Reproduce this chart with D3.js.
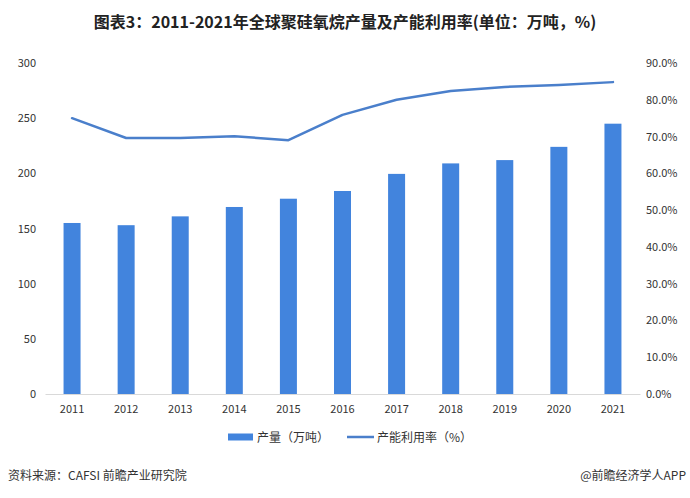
<!DOCTYPE html>
<html>
<head>
  <meta charset="utf-8">
  <script src="https://d3js.org/d3.v7.min.js"></script>
  <style>
    body { margin: 0; background: #fff; }
    .axis text { font-family: "Noto Sans CJK SC", "Noto Sans", sans-serif; font-size: 11px; fill: #333; }
    .title { font-family: "Noto Sans CJK SC", sans-serif; font-size: 16px; font-weight: bold; fill: #222; }
    .legend, .foot { font-family: "Noto Sans CJK SC", sans-serif; font-size: 12px; fill: #333; }
  </style>
</head>
<body>
  <script>
    // data
    var years = ["2011", "2012", "2013", "2014", "2015", "2016", "2017", "2018", "2019", "2020", "2021"];
    var output = [155, 153, 161, 169.5, 177, 184, 199.5, 209, 212, 224, 245];
    var utilisation = [75.0, 69.6, 69.6, 70.1, 69.0, 75.9, 80.0, 82.4, 83.5, 84.0, 84.8];
    var leftTicks = [0, 50, 100, 150, 200, 250, 300];
    var rightTicks = [0, 10, 20, 30, 40, 50, 60, 70, 80, 90];

    var W = 690, H = 498;
    var svg = d3.select("body").append("svg")
        .attr("width", W)
        .attr("height", H);

    var x = d3.scaleBand().domain(years).range([45, 640]);
    var y = d3.scaleLinear().domain([0, 300]).range([394, 63]);
    var y2 = d3.scaleLinear().domain([0, 90]).range([394, 63]);

    var barColor = "#4284dd", lineColor = "#4a7fcb";

    // title
    svg.append("text")
        .attr("class", "title")
        .attr("x", W / 2)
        .attr("y", 28)
        .attr("text-anchor", "middle")
        .text("图表3：2011-2021年全球聚硅氧烷产量及产能利用率(单位：万吨，%)");

    // bars
    var bw = 17;
    svg.selectAll(".bar")
        .data(output)
      .enter().append("rect")
        .attr("class", "bar")
        .attr("x", function(d, i) { return x(years[i]) + x.bandwidth() / 2 - bw / 2; })
        .attr("y", function(d) { return y(d); })
        .attr("width", bw)
        .attr("height", function(d) { return y(0) - y(d); })
        .attr("fill", barColor);

    // utilisation line
    var line = d3.line()
        .x(function(d, i) { return x(years[i]) + x.bandwidth() / 2; })
        .y(function(d) { return y2(d); });

    svg.append("path")
        .datum(utilisation)
        .attr("d", line)
        .attr("fill", "none")
        .attr("stroke", lineColor)
        .attr("stroke-width", 2.5)
        .attr("stroke-linecap", "round")
        .attr("stroke-linejoin", "round");

    // x axis
    var gx = svg.append("g")
        .attr("class", "axis")
        .attr("transform", "translate(0,394)")
        .call(d3.axisBottom(x).tickSize(0).tickPadding(11));
    gx.select(".domain").attr("stroke", "#d9d9d9");

    // left axis
    var gl = svg.append("g")
        .attr("class", "axis")
        .attr("transform", "translate(36,0)")
        .call(d3.axisLeft(y).tickValues(leftTicks).tickSize(0).tickPadding(0));
    gl.select(".domain").remove();

    // right axis
    var gr = svg.append("g")
        .attr("class", "axis")
        .attr("transform", "translate(646,0)")
        .call(d3.axisRight(y2).tickValues(rightTicks).tickSize(0).tickPadding(0)
          .tickFormat(function(d) { return d.toFixed(1) + "%"; }));
    gr.select(".domain").remove();

    // legend
    var lg = svg.append("g").attr("transform", "translate(0,437)");
    lg.append("rect").attr("x", 228).attr("y", -3.5).attr("width", 25).attr("height", 7).attr("fill", barColor);
    lg.append("text").attr("class", "legend").attr("x", 257).attr("y", 4.5).text("产量（万吨）");
    lg.append("line").attr("x1", 347).attr("x2", 374).attr("y1", 0).attr("y2", 0)
        .attr("stroke", lineColor).attr("stroke-width", 2.5);
    lg.append("text").attr("class", "legend").attr("x", 377).attr("y", 4.5).text("产能利用率（%）");

    // footer
    svg.append("text").attr("class", "foot").attr("x", 8).attr("y", 480)
        .text("资料来源：CAFSI 前瞻产业研究院");
    svg.append("text").attr("class", "foot").attr("x", 686).attr("y", 480)
        .attr("text-anchor", "end")
        .text("@前瞻经济学人APP");
  </script>
</body>
</html>
